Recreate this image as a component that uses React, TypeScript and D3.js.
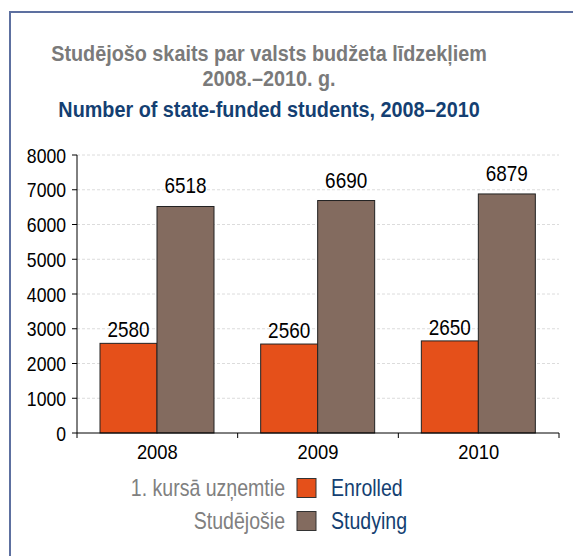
import * as d3 from 'd3'
import React from 'react'

const years = ['2008', '2009', '2010']
const enrolled = [2580, 2560, 2650]
const studying = [6518, 6690, 6879]
const yTicks = [0, 1000, 2000, 3000, 4000, 5000, 6000, 7000, 8000]
const seriesKeys = ['enrolled', 'studying']
const seriesLv = ['1. kursā uzņemtie', 'Studējošie']
const seriesEn = ['Enrolled', 'Studying']
const colors = ['#e5501a', '#836b5f']

const font = '"Liberation Sans", Arial, sans-serif'

// condensed text: the original uses a narrow face, so squeeze a regular one
const NText = (props: any) => {
  const { x, y, sx = 0.86, children, ...rest } = props
  return (
    <g transform={`translate(${x},${y}) scale(${sx},1)`}>
      <text {...rest}>{children}</text>
    </g>
  )
}

export default function App() {
  const W = 573, H = 556
  const left = 77, right = 559, top = 155, bottom = 433

  const x0 = d3.scaleBand().domain(years).range([left, right])
  const x1 = d3.scaleBand().domain(seriesKeys).range([23, 137])
  const y = d3.scaleLinear().domain([0, 8000]).range([bottom, top])
  const labelGap = [6, 13]

  const rows = years.map((yr, i) => ({ yr, vals: [enrolled[i], studying[i]] }))

  return (
    <svg width={W} height={H} style={{ position: 'absolute', left: 0, top: 0, background: '#fff' }}
      fontFamily={font}>
      {/* frame */}
      <path d={`M10,${H} L10,12 L${W},12`} fill="none" stroke="#5d70a0" strokeWidth={2} />

      <g textAnchor="middle" fontWeight="bold" fontSize={22.5}>
        <NText x={269} y={60.5} sx={0.88} fill="#7a7a7a">Studējošo skaits par valsts budžeta līdzekļiem</NText>
        <NText x={269} y={86} sx={0.88} fill="#7a7a7a">2008.–2010. g.</NText>
        <NText x={269} y={117} sx={0.88} fill="#143f72">Number of state-funded students, 2008–2010</NText>
      </g>

      {/* grid */}
      {yTicks.filter(t => t > 0).map(t => (
        <line key={t} x1={left} x2={right} y1={y(t)} y2={y(t)} stroke="#dcdcdc" strokeDasharray="3,2" />
      ))}

      {/* bars */}
      {rows.map(r => (
        <g key={r.yr} transform={`translate(${x0(r.yr)},0)`}>
          {r.vals.map((v, j) => (
            <g key={j}>
              <rect x={x1(seriesKeys[j])} y={y(v)} width={x1.bandwidth()} height={y(0) - y(v)}
                fill={colors[j]} stroke="#222" strokeWidth={1} />
              <NText x={(x1(seriesKeys[j]) as number) + x1.bandwidth() / 2} y={y(v) - labelGap[j]}
                sx={0.88} textAnchor="middle" fontSize={21.5} fill="#000">{v}</NText>
            </g>
          ))}
        </g>
      ))}

      {/* y axis */}
      <line x1={left} x2={left} y1={top} y2={bottom} stroke="#000" />
      {yTicks.map(t => (
        <g key={t}>
          <line x1={left - 5} x2={left} y1={y(t)} y2={y(t)} stroke="#000" />
          <NText x={66} y={y(t) + 7.5} sx={0.88} textAnchor="end" fontSize={20} fill="#000">{t}</NText>
        </g>
      ))}

      {/* x axis */}
      <line x1={left} x2={right} y1={bottom} y2={bottom} stroke="#000" />
      {[...years.map(yr => x0(yr) as number), right].map((xv, i) => (
        <line key={i} x1={xv} x2={xv} y1={bottom} y2={bottom + 5} stroke="#000" />
      ))}
      {years.map(yr => (
        <NText key={yr} x={(x0(yr) as number) + x0.bandwidth() / 2} y={459} sx={0.92}
          textAnchor="middle" fontSize={20} fill="#000">{yr}</NText>
      ))}

      {/* legend */}
      {seriesKeys.map((k, i) => (
        <g key={k} transform={`translate(0,${495.5 + i * 33})`}>
          <NText x={285} y={0} sx={0.85} textAnchor="end" fontSize={23} fill="#808080">{seriesLv[i]}</NText>
          <rect x={297} y={-17} width={19} height={19} fill={colors[i]} stroke="#333" />
          <NText x={331} y={0} sx={0.85} fontSize={23} fill="#143f72">{seriesEn[i]}</NText>
        </g>
      ))}
    </svg>
  )
}
